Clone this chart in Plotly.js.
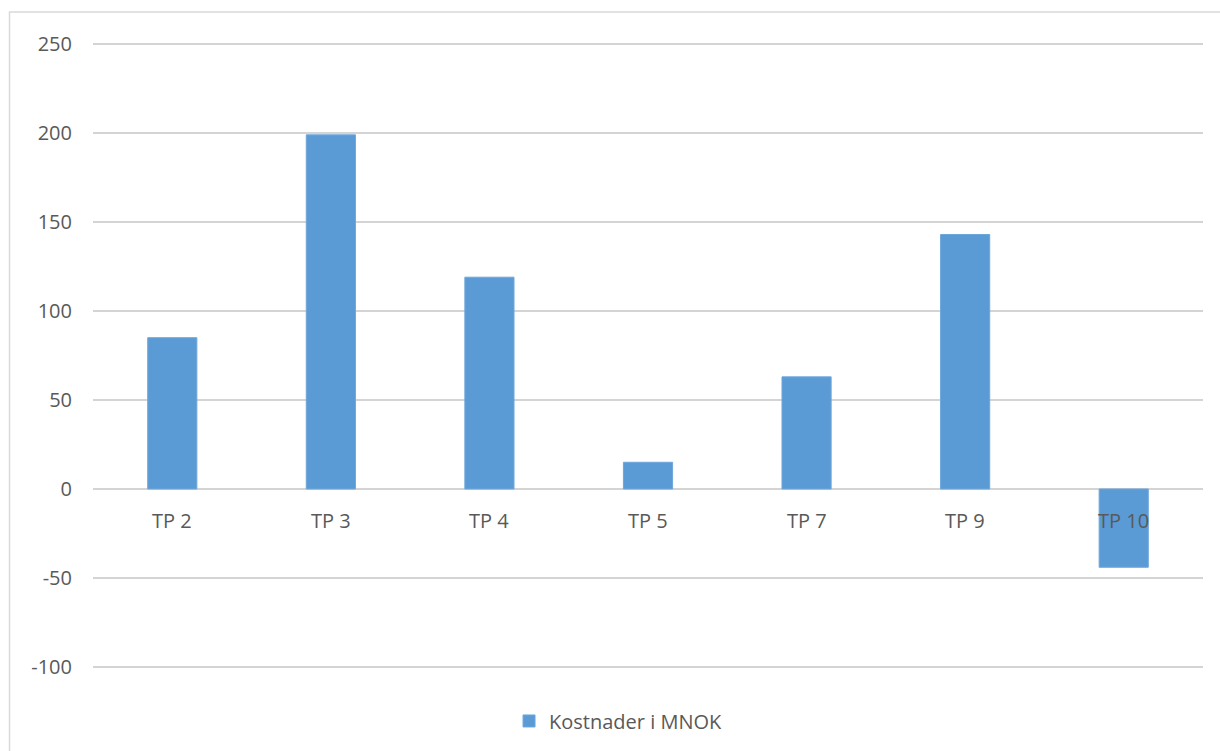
<!DOCTYPE html>
<html>
<head>
<meta charset="utf-8">
<script src="https://cdn.plot.ly/plotly-3.0.1.min.js"></script>
<style>html,body{margin:0;padding:0;background:#fff;}#chart{width:1220px;height:751px;}</style>
</head>
<body>
<div id="chart"></div>
<script>
const categories = ["TP 2", "TP 3", "TP 4", "TP 5", "TP 7", "TP 9", "TP 10"];
const values = [85, 199, 119, 15, 63, 143, -44];
const seriesName = "Kostnader i MNOK";
const yTicks = [-100, -50, 0, 50, 100, 150, 200, 250];

const textColor = "#595959";
const fontFamily = "Open Sans, sans-serif";
const fontSize = 20;

const trace = {
  type: "bar",
  x: categories,
  y: values,
  name: seriesName,
  marker: {color: "#5b9bd5", line: {color: "#6ea7da", width: 1}},
  showlegend: true,
  hoverinfo: "x+y"
};

const annotations = categories.map(c => ({
  x: c, y: 0, xref: "x", yref: "y",
  text: c, showarrow: false,
  yanchor: "middle", yshift: -32,
  font: {family: fontFamily, size: fontSize, color: textColor}
}));

const layout = {
  width: 1220, height: 751,
  margin: {l: 93, r: 17, t: 43, b: 82},
  paper_bgcolor: "#ffffff",
  plot_bgcolor: "#ffffff",
  font: {family: fontFamily, size: fontSize, color: textColor},
  bargap: 0.69,
  xaxis: {
    type: "category",
    showticklabels: false,
    showgrid: false,
    zeroline: false,
    showline: false,
    ticks: ""
  },
  yaxis: {
    range: [-100.6, 250.6],
    tickvals: yTicks,
    ticktext: yTicks.map(String),
    showgrid: true,
    gridcolor: "#d4d4d4",
    gridwidth: 1.2,
    zeroline: false,
    showline: false,
    ticks: "",
    ticklabelstandoff: 20,
    tickfont: {family: fontFamily, size: fontSize, color: textColor},
    fixedrange: true
  },
  showlegend: true,
  legend: {
    orientation: "h",
    x: 0.473, xanchor: "center",
    y: -0.083, yanchor: "middle",
    font: {family: fontFamily, size: fontSize, color: textColor},
    bgcolor: "rgba(0,0,0,0)"
  },
  annotations: annotations,
  shapes: [{
    type: "rect", xref: "paper", yref: "paper",
    x0: -0.0752, x1: 1.2, y0: -0.3, y1: 1.0495,
    line: {color: "#d9d9d9", width: 1.5},
    fillcolor: "rgba(0,0,0,0)",
    layer: "below"
  }]
};

Plotly.newPlot("chart", [trace], layout, {displayModeBar: false, staticPlot: true});
</script>
</body>
</html>
